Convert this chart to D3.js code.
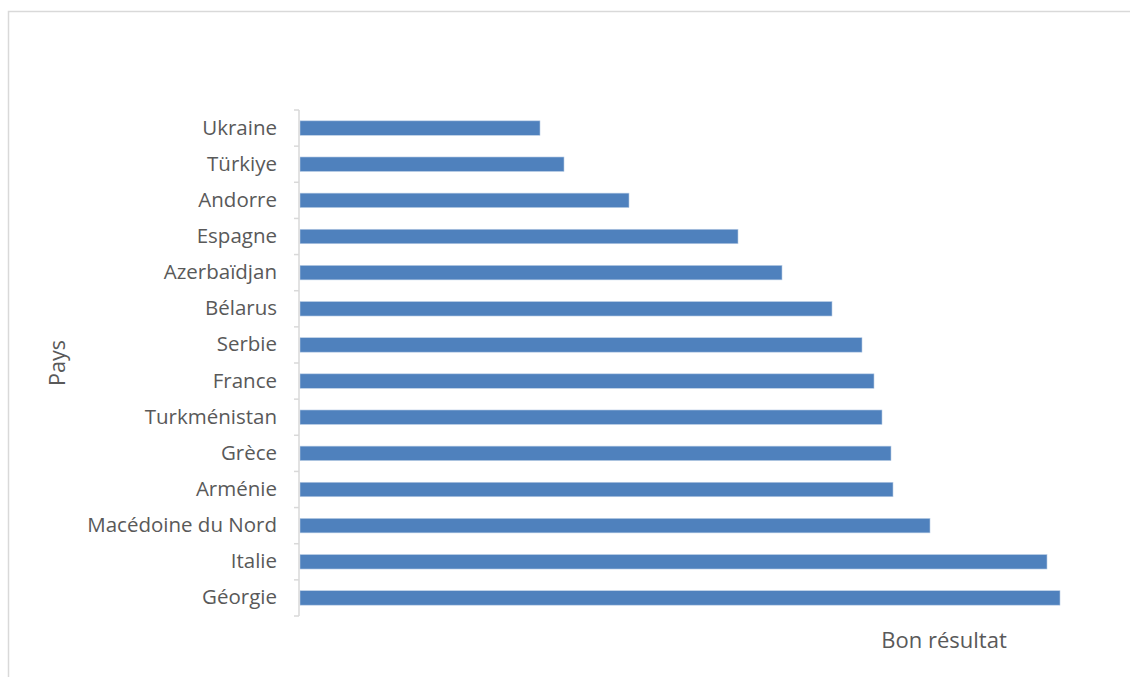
<!DOCTYPE html>
<html>
<head>
<meta charset="utf-8">
<script src="https://cdn.jsdelivr.net/npm/d3@7"></script>
<style>
  html, body { margin: 0; padding: 0; background: #fff; }
  svg { display: block; }
  text { font-family: "Open Sans", "Liberation Sans", sans-serif; fill: #595959; }
</style>
</head>
<body>
<svg id="chart" width="1130" height="677"></svg>
<script>
// Countries, top to bottom
const countries = [
  "Ukraine", "Türkiye", "Andorre", "Espagne", "Azerbaïdjan", "Bélarus", "Serbie",
  "France", "Turkménistan", "Grèce", "Arménie", "Macédoine du Nord", "Italie", "Géorgie"
];
// Score ("Bon résultat"), arbitrary units
const scores = [240, 264, 329, 438, 482, 532, 562, 574, 582, 591, 593, 630, 747, 760];

const xTitle = "Bon résultat";
const yTitle = "Pays";

const svg = d3.select("#chart");
const W = 1130, H = 677;
const plot = { left: 299, right: 1099, top: 110, bottom: 616 };

// Outer chart frame
svg.append("rect")
  .attr("x", 8.5).attr("y", 11.5)
  .attr("width", W + 20).attr("height", H + 20)
  .attr("fill", "none").attr("stroke", "#d9d9d9").attr("stroke-width", 1.5);

const x = d3.scaleLinear().domain([0, 800]).range([plot.left + 1, plot.right + 1]);
const y = d3.scaleBand().domain(countries).range([plot.top, plot.bottom]).paddingInner(0.6).paddingOuter(0.3);

const data = countries.map((c, i) => ({ c, v: scores[i] }));

// Bars
svg.append("g").selectAll("rect").data(data).join("rect")
  .attr("x", x(0))
  .attr("y", d => y(d.c))
  .attr("width", d => x(d.v) - x(0))
  .attr("height", y.bandwidth())
  .attr("fill", "#4f81bd")
  .attr("stroke", "#b9cde5")
  .attr("stroke-width", 0.6);

// Category axis with ticks between categories
const yAxis = d3.axisLeft(y).tickSize(0).tickPadding(22);
const gy = svg.append("g").attr("transform", `translate(${plot.left},0)`).call(yAxis);
gy.select(".domain").remove();
gy.attr("font-family", null).attr("font-size", null);
gy.selectAll("text").style("font-size", "20.5px").attr("fill", "#595959");

const step = (plot.bottom - plot.top) / countries.length;
const bounds = d3.range(countries.length + 1).map(i => plot.top + i * step);
const axisG = svg.append("g");
axisG.append("line")
  .attr("x1", plot.left).attr("x2", plot.left)
  .attr("y1", plot.top).attr("y2", plot.bottom)
  .attr("stroke", "#d9d9d9").attr("stroke-width", 1.5);
axisG.selectAll("line.tick").data(bounds).join("line")
  .attr("class", "tick")
  .attr("x1", plot.left - 5).attr("x2", plot.left)
  .attr("y1", d => d).attr("y2", d => d)
  .attr("stroke", "#d9d9d9").attr("stroke-width", 1.5);

// Axis titles
svg.append("text")
  .attr("transform", "translate(65,363) rotate(-90)")
  .attr("text-anchor", "middle")
  .style("font-size", "21.5px")
  .text(yTitle);

svg.append("text")
  .attr("x", 944).attr("y", 648)
  .attr("text-anchor", "middle")
  .style("font-size", "22px")
  .text(xTitle);
</script>
</body>
</html>
